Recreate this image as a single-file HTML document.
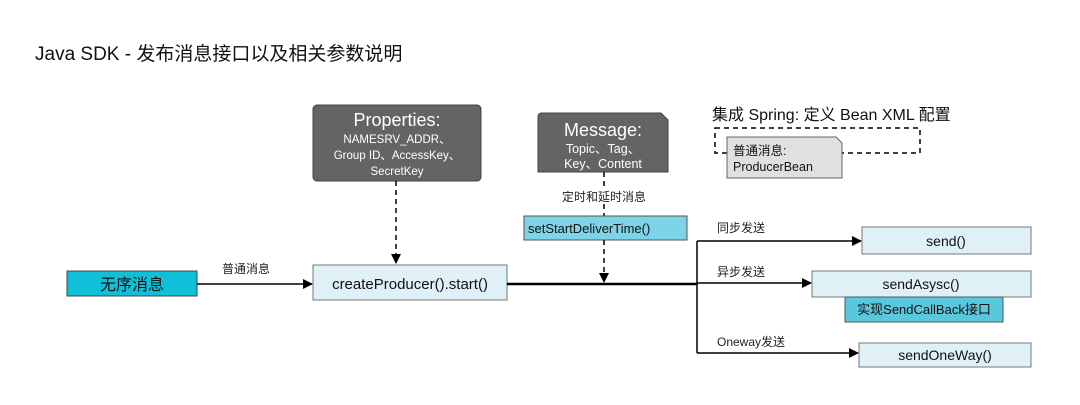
<!DOCTYPE html>
<html><head><meta charset="utf-8"><style>
body{margin:0;background:#fff;}
svg{display:block;font-family:"Liberation Sans","Noto Sans CJK SC",sans-serif;}
</style></head><body>
<svg width="1080" height="405" viewBox="0 0 1080 405" xmlns="http://www.w3.org/2000/svg">
<defs><marker id="a" markerWidth="10" markerHeight="10" refX="9" refY="5" orient="auto" markerUnits="userSpaceOnUse"><path d="M0,0 L10,5 L0,10 z" fill="#000"/></marker></defs>
<text x="35" y="60" font-size="19" fill="#111">Java SDK - 发布消息接口以及相关参数说明</text>

<rect x="67" y="271" width="130" height="25" fill="#10bfd8" stroke="#444"/>
<text x="132" y="290" font-size="16" text-anchor="middle" fill="#111">无序消息</text>
<line x1="197" y1="284" x2="312" y2="284" stroke="#000" stroke-width="1.5" marker-end="url(#a)"/>
<text x="246" y="273" font-size="12" text-anchor="middle" fill="#222">普通消息</text>

<rect x="313" y="265" width="194" height="35" fill="#dff1f7" stroke="#777"/>
<text x="410" y="289" font-size="15" text-anchor="middle" fill="#111">createProducer().start()</text>

<rect x="313" y="105" width="168" height="76" rx="4" fill="#636466" stroke="#444"/>
<text x="397" y="126" font-size="18" text-anchor="middle" fill="#fff">Properties:</text>
<text x="397" y="143" font-size="11.5" text-anchor="middle" fill="#fff">NAMESRV_ADDR、</text>
<text x="397" y="159" font-size="11.5" text-anchor="middle" fill="#fff">Group ID、AccessKey、</text>
<text x="397" y="175" font-size="11.5" text-anchor="middle" fill="#fff">SecretKey</text>
<line x1="396" y1="181" x2="396" y2="263" stroke="#000" stroke-width="1.5" stroke-dasharray="5,4" marker-end="url(#a)"/>

<path d="M542,113 L661,113 L668,120 L668,172 L538,172 L538,117 Q538,113 542,113 z" fill="#636466" stroke="#444"/>
<text x="603" y="136" font-size="18" text-anchor="middle" fill="#fff">Message:</text>
<text x="603" y="153" font-size="12.5" text-anchor="middle" fill="#fff">Topic、Tag、</text>
<text x="603" y="168" font-size="12.5" text-anchor="middle" fill="#fff">Key、Content</text>
<line x1="604" y1="172" x2="604" y2="186" stroke="#000" stroke-width="1.5" stroke-dasharray="5,4"/>
<text x="604" y="201" font-size="12" text-anchor="middle" fill="#222">定时和延时消息</text>
<line x1="604" y1="204" x2="604" y2="216" stroke="#000" stroke-width="1.5" stroke-dasharray="5,4"/>
<rect x="524" y="216" width="163" height="24" fill="#7dd3e8" stroke="#555"/>
<text x="528" y="233" font-size="13" fill="#111">setStartDeliverTime()</text>
<line x1="604" y1="240" x2="604" y2="282" stroke="#000" stroke-width="1.5" stroke-dasharray="5,4" marker-end="url(#a)"/>

<line x1="507" y1="284" x2="697" y2="284" stroke="#000" stroke-width="2.5"/>
<line x1="697" y1="241" x2="697" y2="353" stroke="#000" stroke-width="1.5"/>
<line x1="697" y1="241" x2="861" y2="241" stroke="#000" stroke-width="1.5" marker-end="url(#a)"/>
<line x1="697" y1="283" x2="811" y2="283" stroke="#000" stroke-width="1.5" marker-end="url(#a)"/>
<line x1="697" y1="353" x2="858" y2="353" stroke="#000" stroke-width="1.5" marker-end="url(#a)"/>
<text x="717" y="232" font-size="12" fill="#222">同步发送</text>
<text x="717" y="276" font-size="12" fill="#222">异步发送</text>
<text x="717" y="346" font-size="12" fill="#222">Oneway发送</text>

<rect x="862" y="227" width="169" height="27" fill="#dff1f7" stroke="#777"/>
<text x="946" y="246" font-size="14" text-anchor="middle" fill="#111">send()</text>
<rect x="812" y="271" width="219" height="26" fill="#dff1f7" stroke="#777"/>
<text x="921" y="289" font-size="14" text-anchor="middle" fill="#111">sendAsysc()</text>
<rect x="845" y="297" width="158" height="25" fill="#59c7dc" stroke="#555"/>
<text x="924" y="314" font-size="13" text-anchor="middle" fill="#111">实现SendCallBack接口</text>
<rect x="859" y="343" width="172" height="24" fill="#dff1f7" stroke="#777"/>
<text x="945" y="360" font-size="14" text-anchor="middle" fill="#111">sendOneWay()</text>

<text x="712" y="120" font-size="16" fill="#111">集成 Spring: 定义 Bean XML 配置</text>
<rect x="715" y="128" width="205" height="25" fill="none" stroke="#000" stroke-width="1.5" stroke-dasharray="5,4"/>
<path d="M727,137 L836,137 L842,143 L842,178 L727,178 z" fill="#e0e0e0" stroke="#666"/>
<text x="733" y="155" font-size="12.5" fill="#111">普通消息:</text>
<text x="733" y="171" font-size="12.5" fill="#111">ProducerBean</text>
</svg>
</body></html>
